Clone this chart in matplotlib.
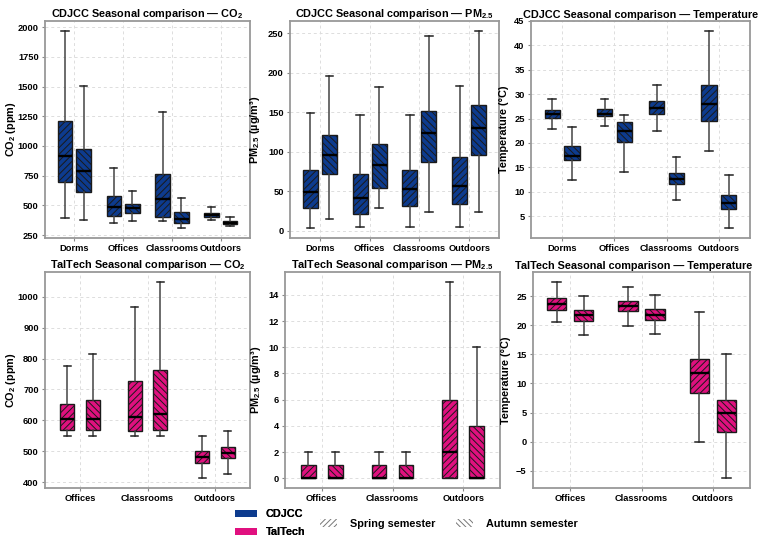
import matplotlib
matplotlib.use("Agg")
import matplotlib.pyplot as plt
import matplotlib.patches as mpatches

plt.rcParams.update({
    "font.family": "Liberation Sans",
    "font.weight": "bold",
    "axes.labelweight": "bold",
    "axes.titleweight": "bold",
    "mathtext.fontset": "custom",
    "mathtext.rm": "Liberation Sans:bold",
    "mathtext.it": "Liberation Sans:bold",
    "mathtext.bf": "Liberation Sans:bold",
    "hatch.linewidth": 0.7,
})

CDJCC_COLOR = "#0d3b8e"
TALTECH_COLOR = "#e0107f"
SPRING_HATCH = "/////"
AUTUMN_HATCH = "\\\\\\\\\\"

cdjcc_cats = ["Dorms", "Offices", "Classrooms", "Outdoors"]
taltech_cats = ["Offices", "Classrooms", "Outdoors"]

# each stat: (whislo, q1, med, q3, whishi)
cdjcc_co2_spring = [(390, 700, 915, 1210, 1970), (350, 410, 487, 575, 815),
                    (370, 405, 550, 760, 1290), (375, 400, 420, 435, 485)]
cdjcc_co2_autumn = [(375, 615, 790, 975, 1505), (368, 435, 475, 515, 620),
                    (308, 350, 385, 440, 565), (330, 340, 355, 370, 405)]

cdjcc_pm_spring = [(3, 29, 49, 77, 149), (4, 21, 41, 71, 146),
                   (4, 31, 52, 77, 146), (4, 33, 57, 93, 183)]
cdjcc_pm_autumn = [(15, 71, 96, 121, 196), (29, 54, 83, 109, 182),
                   (23, 87, 124, 151, 247), (23, 96, 130, 159, 253)]

cdjcc_temp_spring = [(22.8, 25.1, 26.0, 26.7, 29.0), (23.5, 25.5, 25.9, 27.0, 29.0),
                     (22.5, 26.0, 27.2, 28.5, 31.9), (18.3, 24.5, 27.9, 31.9, 43.0)]
cdjcc_temp_autumn = [(12.3, 16.5, 17.4, 19.3, 23.2), (14.1, 20.2, 22.4, 24.3, 25.7),
                     (8.2, 11.5, 12.5, 13.8, 17.2), (2.5, 6.5, 7.6, 9.3, 13.5)]

taltech_co2_spring = [(550, 570, 603, 652, 775), (550, 567, 611, 728, 965),
                      (413, 463, 481, 500, 551)]
taltech_co2_autumn = [(550, 568, 604, 666, 813), (550, 570, 620, 762, 1048),
                      (427, 479, 495, 515, 566)]

taltech_pm_spring = [(0, 0, 0, 1, 2), (0, 0, 0, 1, 2), (0, 0, 2, 6, 15)]
taltech_pm_autumn = [(0, 0, 0, 1, 2), (0, 0, 0, 1, 2), (0, 0, 0, 4, 10)]

taltech_temp_spring = [(20.5, 22.6, 23.7, 24.8, 27.5), (19.9, 22.4, 23.3, 24.2, 26.6),
                       (0.0, 8.3, 11.8, 14.3, 22.3)]
taltech_temp_autumn = [(18.3, 20.8, 21.8, 22.6, 25.0), (18.5, 21.0, 21.8, 22.8, 25.2),
                       (-6.3, 1.7, 4.9, 7.2, 15.1)]

co2_label = "CO$_2$ (ppm)"
pm_label = "PM$_{2.5}$ (µg/m³)"
temp_label = "Temperature (°C)"


def to_stats(rows):
    return [dict(whislo=lo, q1=q1, med=med, q3=q3, whishi=hi, fliers=[])
            for lo, q1, med, q3, hi in rows]


def draw_panel(ax, cats, spring, autumn, color, title, ylabel, width, xlim, title_x=0.5):
    n = len(cats)
    for rows, off, hatch in [(spring, -0.19, SPRING_HATCH), (autumn, 0.19, AUTUMN_HATCH)]:
        pos = [i + off for i in range(n)]
        res = ax.bxp(to_stats(rows), positions=pos, widths=width, patch_artist=True,
                     showfliers=False, manage_ticks=False,
                     boxprops=dict(facecolor=color, edgecolor="#1a1a1a", linewidth=1.0),
                     whiskerprops=dict(color="#444444", linewidth=1.1),
                     capprops=dict(color="#222222", linewidth=1.1),
                     medianprops=dict(color="black", linewidth=1.7))
        for b in res["boxes"]:
            b.set_hatch(hatch)
    ax.set_xticks(range(n))
    ax.set_xticklabels(cats)
    ax.set_xlim(*xlim)
    ax.set_title(title, fontsize=7.8, pad=2.5, x=title_x)
    ax.set_ylabel(ylabel, fontsize=7.8, labelpad=4)
    ax.tick_params(labelsize=6.7, length=2.5, color="#888888", pad=2)
    ax.grid(True, ls=(0, (3, 3)), color="#dddddd", lw=0.7)
    ax.set_axisbelow(True)
    for s in ax.spines.values():
        s.set_color("#999999")
        s.set_linewidth(1.3)


fig = plt.figure(figsize=(7.58, 5.39), dpi=100)
H = 539.0
W = 758.0

def add_ax(x0, x1, y0, y1):
    return fig.add_axes([x0 / W, 1 - y1 / H, (x1 - x0) / W, (y1 - y0) / H])

ax1 = add_ax(45, 250, 21, 238)
ax2 = add_ax(290, 499, 21, 238)
ax3 = add_ax(531, 750, 21, 238)
ax4 = add_ax(45, 250, 272, 488)
ax5 = add_ax(285, 500, 272, 488)
ax6 = add_ax(533, 750, 272, 488)

top_lim = (-0.6, 3.6)
bot_lim = (-0.52, 2.52)

draw_panel(ax1, cdjcc_cats, cdjcc_co2_spring, cdjcc_co2_autumn, CDJCC_COLOR,
           "CDJCC Seasonal comparison — CO$_2$", co2_label, 0.3, top_lim)
draw_panel(ax2, cdjcc_cats, cdjcc_pm_spring, cdjcc_pm_autumn, CDJCC_COLOR,
           "CDJCC Seasonal comparison — PM$_{2.5}$", pm_label, 0.3, top_lim)
draw_panel(ax3, cdjcc_cats, cdjcc_temp_spring, cdjcc_temp_autumn, CDJCC_COLOR,
           "CDJCC Seasonal comparison — Temperature", temp_label, 0.3, top_lim)
draw_panel(ax4, taltech_cats, taltech_co2_spring, taltech_co2_autumn, TALTECH_COLOR,
           "TalTech Seasonal comparison — CO$_2$", co2_label, 0.21, bot_lim)
draw_panel(ax5, taltech_cats, taltech_pm_spring, taltech_pm_autumn, TALTECH_COLOR,
           "TalTech Seasonal comparison — PM$_{2.5}$", pm_label, 0.21, bot_lim)
draw_panel(ax6, taltech_cats, taltech_temp_spring, taltech_temp_autumn, TALTECH_COLOR,
           "TalTech Seasonal comparison — Temperature", temp_label, 0.27, bot_lim,
           title_x=0.465)

# keep the left-most labels inside the figure
ax1.yaxis.set_label_coords(-0.13, 0.5)
ax4.yaxis.set_label_coords(-0.13, 0.5)

ax1.set_yticks([250, 500, 750, 1000, 1250, 1500, 1750, 2000])
ax3.set_ylim(0.5, 45)

site_handles = [mpatches.Patch(facecolor=CDJCC_COLOR, label="CDJCC"),
                mpatches.Patch(facecolor=TALTECH_COLOR, label="TalTech")]
season_handles = [mpatches.Patch(facecolor="white", edgecolor="#777777", hatch="//////",
                                 lw=0, label="Spring semester"),
                  mpatches.Patch(facecolor="white", edgecolor="#777777", hatch="\\\\\\\\\\\\",
                                 lw=0, label="Autumn semester")]
leg1 = fig.legend(handles=site_handles, loc="center left", bbox_to_anchor=(228 / W, 1 - 523 / H),
                  frameon=False, fontsize=7.8, handlelength=2.1, handleheight=0.6,
                  labelspacing=0.75, handletextpad=0.8, borderpad=0.1)
fig.legend(handles=season_handles, loc="center left", bbox_to_anchor=(313 / W, 1 - 524 / H),
           frameon=False, fontsize=7.8, ncol=2, handlelength=1.6, handleheight=0.7,
           handletextpad=1.2, columnspacing=1.9, borderpad=0.1)
fig.add_artist(leg1)

fig.savefig("out.png", dpi=100)
